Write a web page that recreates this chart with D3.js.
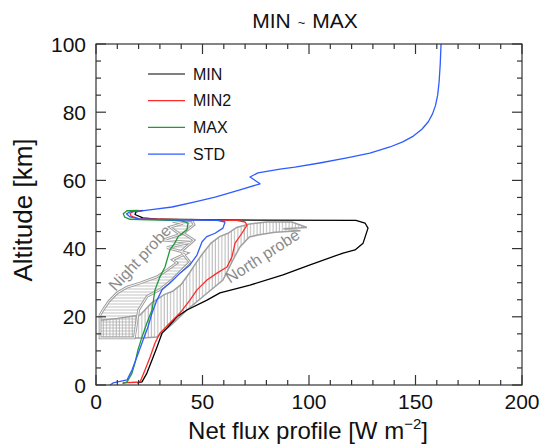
<!DOCTYPE html>
<html><head><meta charset="utf-8">
<script src="https://cdn.jsdelivr.net/npm/d3@7"></script>
<style>body{margin:0;background:#fff}svg{display:block;font-family:"Liberation Sans",Arial,Helvetica,sans-serif}</style>
</head><body><svg id="c" width="544" height="447"></svg>
<script>
// ---- data: [net flux (W m-2), altitude (km)] ----
const seriesNames = ["MIN", "MIN2", "MAX", "STD"];
const seriesColors = ["#000000", "#ff2a2a", "#1f9a35", "#2f5cff"];
const minProfile = [[19.2,0.6],[21.6,0.9],[23.9,3.5],[26.3,7.3],[28.6,11.1],[31,15.2],[33.8,17],[38,20],[42.7,22],[52.1,24.9],[58.2,27],[72.3,29.3],[87.8,32.3],[100.5,35.2],[116,38.7],[121.6,39.6],[125.4,41.6],[127.7,46],[126.3,47.5],[122,48.3],[60,48.4],[30,48.6],[22,49],[18.3,50],[18.8,50.8],[22,51.2]];
const min2Profile = [[12.5,0.6],[18.3,0.8],[20.7,0.9],[23,4.4],[25.4,8.2],[27.7,12.3],[30,15.2],[34.7,18.2],[39.4,21.1],[44.1,24.9],[47.4,27.9],[52.1,30.8],[56.8,32.8],[61.5,34.6],[63.8,37.5],[65.3,41.6],[68.5,44.5],[70.9,46.9],[70,47.8],[66,48.3],[40,48.5],[20,48.8],[16.5,49.5],[16,50.3],[17.5,50.9],[21,51.1]];
const maxProfile = [[12.5,0.4],[14.6,0.9],[16.9,3.5],[18.3,6.5],[19.7,10.3],[21.6,14.1],[23.9,18.2],[26.3,22],[27.7,27.9],[30,31.7],[32.4,34.6],[34.7,39.6],[37,41.6],[38.5,43.5],[42.7,45.5],[43.2,47.5],[40,48.2],[25,48.4],[16,48.6],[13.5,49.2],[12.8,50.2],[14.5,51.1],[20,51.2]];
const stdProfile = [[6.6,0],[8,0.6],[14.6,1.5],[16.9,4.4],[19.2,8.2],[22.1,13.2],[24.4,17],[26.3,21.1],[28.6,24.9],[31,27.9],[34.7,29.9],[39.4,32.8],[44.1,35.2],[47.4,38.1],[49.8,42],[52,43.5],[55.9,44.5],[59.6,46],[60.6,47.8],[57,48.3],[35,48.4],[20,48.7],[16,49.3],[14.3,50.2],[16,50.8],[19.7,50.9],[27,51.5],[35.7,52.2],[46.5,53.7],[55.9,55.1],[67.6,57.2],[77,59],[72.3,61],[76,62.2],[86.4,63.3],[93.4,63.9],[105,65.1],[117.8,66.6],[128.6,68],[138,69.8],[144,71.3],[149,73],[153,75],[156,77.2],[158,79.5],[159.4,82],[160.4,85],[161.1,89],[161.6,94],[162,100]];
// gray probe overlays (approximate outlines)
const nightProbe = [[1.9,13.8],[1.9,20.5],[3.3,22],[6,24.5],[9.9,27],[14.6,28.7],[20.7,29.9],[28.6,31.7],[33.3,33.7],[38,35.8],[36,36.7],[42.7,38.7],[33.3,40.3],[44,41.8],[31.5,42.5],[39.4,44.2],[34.7,46.3],[40.8,47.4],[36,48],[45,48.3],[46,47],[41,44.5],[46,42.5],[40,39.2],[44,36],[36,31],[30,28],[24,26],[20,22],[18,13.8]];
const northProbe = [[1.9,13.8],[1.9,19],[10,19.5],[20.7,20.5],[26,24],[32,26.5],[36,27.5],[40,29.5],[44,33],[47,35.8],[50,38.5],[54,41.6],[58,43.5],[62,44.5],[66,46.2],[72,47.2],[80,47.8],[92,47.8],[99,46.2],[88,45.8],[96,45.2],[84,44.8],[76,44],[72,43.4],[67.6,40.5],[64.3,36.7],[59.6,30.8],[50,25.8],[42.7,22],[36,18],[28.6,14.1],[22,13.8]];
const probeLabels = [{text:"Night probe", x:21, y:37, angle:-47},{text:"North probe", x:78.5, y:37.5, angle:-33}];
const xTicksMajor = [0,50,100,150,200];
const yTicksMajor = [0,20,40,60,80,100];

const svg = d3.select("#c");
const M = {l:96, r:522, t:44, b:385};
const x = d3.scaleLinear().domain([0,200]).range([M.l,M.r]);
const y = d3.scaleLinear().domain([0,100]).range([M.b,M.t]);

// hatch patterns
const defs = svg.append("defs");
defs.append("pattern").attr("id","vh").attr("patternUnits","userSpaceOnUse").attr("width",3.2).attr("height",4)
  .append("line").attr("x1",1).attr("x2",1).attr("y1",0).attr("y2",4).attr("stroke","#9a9a9a").attr("stroke-width",0.8);
defs.append("pattern").attr("id","hh").attr("patternUnits","userSpaceOnUse").attr("width",4).attr("height",3)
  .append("line").attr("x1",0).attr("x2",4).attr("y1",1).attr("y2",1).attr("stroke","#a8a8a8").attr("stroke-width",0.7);

const area = d3.line().x(d=>x(d[0])).y(d=>y(d[1])).curve(d3.curveLinearClosed);
const g = svg.append("g");
g.append("path").attr("d",area(northProbe)).attr("fill","url(#vh)").attr("stroke","#a0a0a0").attr("stroke-width",1.5);
g.append("path").attr("d",area(nightProbe)).attr("fill","url(#hh)").attr("stroke","#a0a0a0").attr("stroke-width",2.8);
g.append("path").attr("d",area(nightProbe)).attr("fill","none").attr("stroke","#fff").attr("stroke-width",0.9);
probeLabels.forEach(p=>{
  g.append("text").attr("transform",`translate(${x(p.x)},${y(p.y)}) rotate(${p.angle})`)
   .attr("text-anchor","middle").attr("dominant-baseline","middle")
   .attr("font-size",16).attr("fill","#8a8a8a").text(p.text);
});

// series
const line = d3.line().x(d=>x(d[0])).y(d=>y(d[1]));
[minProfile, min2Profile, maxProfile, stdProfile].forEach((s,i)=>{
  svg.append("path").attr("d",line(s)).attr("fill","none").attr("stroke",seriesColors[i]).attr("stroke-width",1.3).attr("stroke-linejoin","round");
});

// frame & ticks
const ax = svg.append("g").attr("stroke","#333").attr("stroke-width",1.2);
ax.append("rect").attr("x",M.l).attr("y",M.t).attr("width",M.r-M.l).attr("height",M.b-M.t).attr("fill","none");
d3.range(0,201,10).forEach(v=>{
  const L = v%50===0 ? 10 : 5;
  ax.append("line").attr("x1",x(v)).attr("x2",x(v)).attr("y1",M.b).attr("y2",M.b-L);
  ax.append("line").attr("x1",x(v)).attr("x2",x(v)).attr("y1",M.t).attr("y2",M.t+L);
});
d3.range(0,101,5).forEach(v=>{
  const L = v%20===0 ? 10 : 5;
  ax.append("line").attr("x1",M.l).attr("x2",M.l+L).attr("y1",y(v)).attr("y2",y(v));
  ax.append("line").attr("x1",M.r).attr("x2",M.r-L).attr("y1",y(v)).attr("y2",y(v));
});
xTicksMajor.forEach(v=>svg.append("text").attr("x",x(v)).attr("y",M.b+24).attr("text-anchor","middle").attr("font-size",21).attr("fill","#111").text(v));
yTicksMajor.forEach(v=>svg.append("text").attr("x",M.l-10).attr("y",y(v)+7.5).attr("text-anchor","end").attr("font-size",21).attr("fill","#111").text(v));

// titles
const tt = svg.append("text").attr("x",305).attr("y",28).attr("text-anchor","middle").attr("font-size",21).attr("fill","#111");
tt.append("tspan").text("MIN");
tt.append("tspan").attr("dx",7).attr("dy",-1).attr("font-size",13).text("~");
tt.append("tspan").attr("dx",7).attr("dy",1).text("MAX");
const xt = svg.append("text").attr("x",308).attr("y",439).attr("text-anchor","middle").attr("font-size",24).attr("fill","#111");
xt.append("tspan").text("Net flux profile [W m");
xt.append("tspan").attr("dy",-10).attr("font-size",15).text("−2");
xt.append("tspan").attr("dy",10).text("]");
svg.append("text").attr("transform","translate(32,210) rotate(-90)").attr("text-anchor","middle").attr("font-size",26).attr("fill","#111").text("Altitude [km]");

// legend
const lg = svg.append("g");
seriesNames.forEach((n,i)=>{
  const yy = 74 + i*26.7;
  lg.append("line").attr("x1",148).attr("x2",185).attr("y1",yy).attr("y2",yy).attr("stroke",seriesColors[i]).attr("stroke-width",1.2);
  lg.append("text").attr("x",193).attr("y",yy+5.5).attr("font-size",16).attr("fill","#111").text(n);
});
</script></body></html>
